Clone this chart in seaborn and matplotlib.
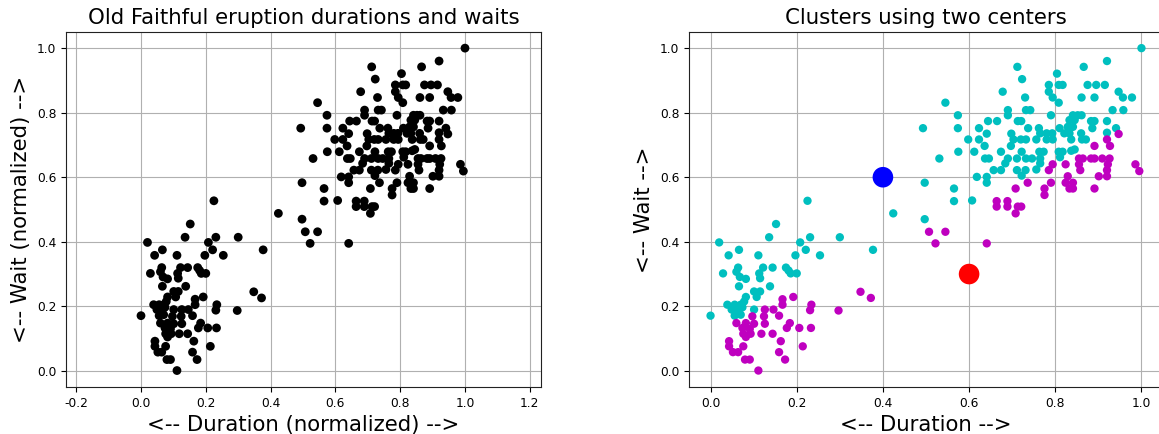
import numpy as np
import pandas as pd
import matplotlib
matplotlib.use("Agg")
import matplotlib.pyplot as plt
import seaborn as sns

# Normalized Old Faithful data
duration = [
    0.225, 0.152, 0.136, 0.231, 0.020, 0.208, 0.066, 0.221, 0.042, 0.111, 0.197, 0.254,
    0.064, 0.122, 0.144, 0.175, 0.181, 0.029, 0.060, 0.068, 0.082, 0.113, 0.115, 0.186,
    0.200, 0.066, 0.138, 0.101, 0.115, 0.107, 0.082, 0.167, 0.192, 0.039, 0.056, 0.070,
    0.078, 0.167, 0.234, 0.049, 0.064, 0.074, 0.101, 0.126, 0.146, 0.231, 0.000, 0.056,
    0.070, 0.097, 0.124, 0.159, 0.060, 0.082, 0.101, 0.126, 0.184, 0.074, 0.091, 0.177,
    0.206, 0.233, 0.076, 0.093, 0.118, 0.144, 0.043, 0.082, 0.163, 0.043, 0.076, 0.214,
    0.052, 0.064, 0.159, 0.080, 0.091, 0.173, 0.111,
    0.300, 0.377, 0.348, 0.372, 0.297, 0.424,
    0.712, 0.723, 0.678, 0.545, 0.730, 0.574, 0.690, 0.690, 0.493, 0.574, 0.623, 0.644,
    0.665, 0.713, 0.721, 0.598, 0.623, 0.641, 0.698, 0.703, 0.720, 0.636, 0.697,
    0.575, 0.612, 0.674, 0.722, 0.531, 0.637, 0.646, 0.690, 0.711, 0.684, 0.657, 0.674,
    0.711, 0.618, 0.641, 0.641, 0.722, 0.497, 0.565, 0.565, 0.607, 0.497, 0.708, 0.664,
    0.664, 0.689, 0.689, 0.713, 0.721, 0.708, 0.507, 0.545, 0.522, 0.641,
    1.000, 0.920, 0.866, 0.804, 0.785, 0.808, 0.817, 0.875, 0.895, 0.915, 0.785, 0.947,
    0.794, 0.861, 0.891, 0.957, 0.978, 0.808, 0.732, 0.742, 0.933, 0.958, 0.790, 0.841,
    0.852, 0.861, 0.833, 0.845, 0.883, 0.891, 0.920, 0.829, 0.841, 0.737, 0.762, 0.810,
    0.886, 0.941, 0.765, 0.780, 0.793, 0.821, 0.833, 0.860, 0.920, 0.947, 0.732, 0.756,
    0.780, 0.794, 0.837, 0.862, 0.871, 0.920, 0.891, 0.927,
    0.763, 0.773, 0.808, 0.817, 0.837, 0.845, 0.732, 0.746, 0.765, 0.765, 0.811, 0.794,
    0.824, 0.855, 0.864, 0.883, 0.891, 0.909, 0.926, 0.855, 0.922, 0.986, 0.731, 0.756,
    0.785, 0.858, 0.920, 0.995, 0.901, 0.920, 0.829, 0.736, 0.790, 0.824, 0.841, 0.775,
    0.833, 0.841, 0.891, 0.775,
]
wait = [
    0.527, 0.455, 0.414, 0.414, 0.398, 0.398, 0.375, 0.375, 0.358, 0.358, 0.358, 0.358,
    0.320, 0.320, 0.320, 0.320, 0.311, 0.302, 0.307, 0.291, 0.285, 0.302, 0.287, 0.302,
    0.302, 0.262, 0.262, 0.246, 0.246, 0.229, 0.229, 0.222, 0.229, 0.205, 0.205, 0.205,
    0.215, 0.205, 0.205, 0.190, 0.185, 0.197, 0.190, 0.190, 0.190, 0.188, 0.171, 0.171,
    0.174, 0.169, 0.169, 0.171, 0.148, 0.148, 0.146, 0.146, 0.148, 0.133, 0.130, 0.133,
    0.133, 0.133, 0.115, 0.115, 0.115, 0.115, 0.092, 0.105, 0.092, 0.076, 0.076, 0.076,
    0.058, 0.058, 0.058, 0.035, 0.035, 0.035, 0.001,
    0.414, 0.375, 0.245, 0.226, 0.187, 0.488,
    0.942, 0.904, 0.865, 0.831, 0.847, 0.792, 0.808, 0.792, 0.752, 0.752, 0.752, 0.774,
    0.774, 0.774, 0.774, 0.717, 0.717, 0.735, 0.735, 0.717, 0.717, 0.697, 0.697,
    0.679, 0.679, 0.679, 0.679, 0.658, 0.658, 0.658, 0.658, 0.658, 0.643, 0.622, 0.622,
    0.622, 0.601, 0.601, 0.583, 0.605, 0.583, 0.565, 0.526, 0.528, 0.470, 0.565, 0.526,
    0.509, 0.526, 0.509, 0.509, 0.509, 0.488, 0.431, 0.431, 0.395, 0.395,
    1.000, 0.960, 0.942, 0.921, 0.886, 0.886, 0.886, 0.886, 0.886, 0.886, 0.865, 0.865,
    0.847, 0.847, 0.847, 0.847, 0.847, 0.831, 0.808, 0.808, 0.808, 0.808, 0.792, 0.792,
    0.792, 0.792, 0.777, 0.777, 0.774, 0.774, 0.774, 0.756, 0.756, 0.752, 0.752, 0.752,
    0.752, 0.752, 0.736, 0.736, 0.736, 0.736, 0.736, 0.736, 0.738, 0.734, 0.717, 0.717,
    0.717, 0.717, 0.717, 0.717, 0.717, 0.717, 0.697, 0.697,
    0.679, 0.679, 0.679, 0.679, 0.682, 0.686, 0.658, 0.658, 0.658, 0.643, 0.662, 0.640,
    0.640, 0.658, 0.658, 0.658, 0.658, 0.658, 0.658, 0.640, 0.640, 0.640, 0.622, 0.624,
    0.622, 0.622, 0.622, 0.619, 0.603, 0.603, 0.603, 0.583, 0.583, 0.583, 0.583, 0.565,
    0.565, 0.565, 0.565, 0.545,
]

center_x = [0.4, 0.6]
center_y = [0.6, 0.3]
center_colors = ["b", "r"]
cluster_colors = ["c", "m"]

df = pd.DataFrame({"duration": duration, "wait": wait})
cx = np.array(center_x)
cy = np.array(center_y)
dist = (df["duration"].values[:, None] - cx) ** 2 + (df["wait"].values[:, None] - cy) ** 2
df["cluster"] = np.argmin(dist, axis=1)
centers = pd.DataFrame({"x": center_x, "y": center_y, "k": [0, 1]})

plt.rcParams.update({
    "font.family": ["DejaVu Sans"],
    "xtick.labelsize": 8.8,
    "ytick.labelsize": 8.8,
    "axes.edgecolor": "#222222",
})

fig = plt.figure(figsize=(11.59, 4.34), dpi=100)
W, H = 1159, 434
ax1 = fig.add_axes([66 / W, 1 - 387 / H, 475 / W, 355 / H])
ax2 = fig.add_axes([689 / W, 1 - 387 / H, 474 / W, 355 / H])

label_fs = 15.3
dot_s = 40

sns.scatterplot(data=df, x="duration", y="wait", color="k", s=dot_s,
                linewidth=0, edgecolor="none", ax=ax1, zorder=3)
ax1.set_xlim(-0.2315, 1.2346)
ax1.set_ylim(-0.05, 1.05)
ax1.set_xticks(np.arange(-0.2, 1.21, 0.2))
ax1.set_yticks(np.arange(0.0, 1.01, 0.2))
ax1.set_title("Old Faithful eruption durations and waits", fontsize=label_fs)
ax1.set_xlabel("<-- Duration (normalized) -->", fontsize=label_fs)
ax1.set_ylabel("<-- Wait (normalized) -->", fontsize=label_fs)

sns.scatterplot(data=df, x="duration", y="wait", hue="cluster",
                palette={0: cluster_colors[0], 1: cluster_colors[1]},
                s=dot_s - 4, linewidth=0, edgecolor="none", legend=False, ax=ax2, zorder=3)
sns.scatterplot(data=centers, x="x", y="y", hue="k",
                palette={0: center_colors[0], 1: center_colors[1]},
                s=220, linewidth=0, edgecolor="none", legend=False, ax=ax2, zorder=4)
ax2.set_xlim(-0.05, 1.05)
ax2.set_ylim(-0.05, 1.05)
ax2.set_xticks(np.arange(0.0, 1.01, 0.2))
ax2.set_yticks(np.arange(0.0, 1.01, 0.2))
ax2.set_title("Clusters using two centers", fontsize=label_fs)
ax2.set_xlabel("<-- Duration -->", fontsize=label_fs)
ax2.set_ylabel("<-- Wait -->", fontsize=label_fs)

for ax in (ax1, ax2):
    ax.grid(True, color="#b0b0b0", linewidth=0.8)
    ax.set_axisbelow(True)
    ax.xaxis.set_major_formatter(matplotlib.ticker.FormatStrFormatter("%.1f"))
    ax.yaxis.set_major_formatter(matplotlib.ticker.FormatStrFormatter("%.1f"))

fig.savefig("out.png", dpi=100)
